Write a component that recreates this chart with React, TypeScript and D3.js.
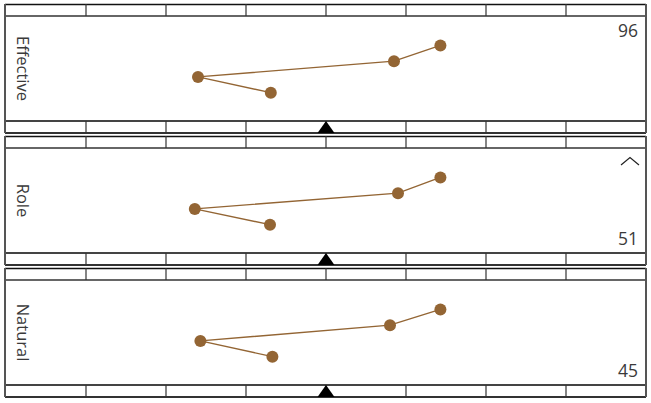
import React from "react";
import * as d3 from "d3";

const categories = ["Effective", "Role", "Natural"];
const cornerLabels = ["96", "51", "45"];
const labelPositions = ["top", "bottom", "bottom"];
const showCaret = [false, true, false];
// x positions (column units, 0..8) of the four points in drawing order
const xValues = [
  [3.31, 2.4, 4.85, 5.43],
  [3.3, 2.36, 4.9, 5.43],
  [3.33, 2.43, 4.8, 5.43],
];
// y values (0..100 within plot area)
const yValues = [27, 42, 57, 72];
const columnTicks = [1, 2, 3, 4, 5, 6, 7];
const markerValue = 4;

const W = 651;
const H = 403;
const left = 5;
const right = 646;
const panelTop0 = 4;
const panelStep = 132;
const panelH = 129;
const strip = 12;

export default function App() {
  const x = d3.scaleLinear().domain([0, 8]).range([6, 646]);
  const y = d3.scaleLinear().domain([0, 100]).range([117, 12]);
  const line = d3
    .line<[number, number]>()
    .x((d) => x(d[0]))
    .y((d) => y(d[1]));
  const color = "#936534";
  const textColor = "#3a3a3a";
  return (
    <svg
      width={W}
      height={H}
      style={{ position: "absolute", left: 0, top: 0, background: "#fff" }}
      fontFamily="'Open Sans', sans-serif"
    >
      {categories.map((cat, i) => {
        const top = panelTop0 + i * panelStep;
        const pts: [number, number][] = xValues[i].map((xv, j) => [xv, yValues[j]]);
        const mid = (strip + panelH - strip) / 2;
        return (
          <g key={cat} transform={`translate(0,${top})`}>
            <rect x={left} y={0} width={right - left} height={panelH} fill="#fff" stroke="none" />
            <line x1={left} x2={right} y1={0.5} y2={0.5} stroke="#111" strokeWidth={1.5} />
            <line x1={left} x2={right} y1={strip} y2={strip} stroke="#333" strokeWidth={1.5} />
            <line x1={left} x2={right} y1={panelH - strip} y2={panelH - strip} stroke="#444" strokeWidth={1.8} />
            <line x1={left} x2={right} y1={panelH} y2={panelH} stroke="#333" strokeWidth={1.8} />
            <line x1={left} x2={left} y1={0} y2={panelH} stroke="#555" strokeWidth={2} />
            <line x1={right} x2={right} y1={0} y2={panelH} stroke="#555" strokeWidth={2} />
            {columnTicks.map((c) => (
              <g key={c}>
                <line x1={x(c)} x2={x(c)} y1={0} y2={strip} stroke="#333" strokeWidth={1.2} />
                <line x1={x(c)} x2={x(c)} y1={panelH - strip} y2={panelH} stroke="#333" strokeWidth={1.2} />
              </g>
            ))}
            <path
              d={`M${x(markerValue) - 8.5},${panelH} L${x(markerValue)},${panelH - strip} L${x(markerValue) + 8.5},${panelH} Z`}
              fill="#000"
            />
            <text
              transform={`translate(17,${mid}) rotate(90)`}
              textAnchor="middle"
              fontSize={16.5}
              fill={textColor}
            >
              {cat}
            </text>
            <path d={line(pts) || ""} fill="none" stroke={color} strokeWidth={1.4} />
            {pts.map((p, j) => (
              <circle key={j} cx={x(p[0])} cy={y(p[1])} r={6} fill={color} />
            ))}
            <text
              x={638}
              y={labelPositions[i] === "top" ? 33 : 109}
              textAnchor="end"
              fontSize={17.5}
              fill={textColor}
            >
              {cornerLabels[i]}
            </text>
            {showCaret[i] && (
              <path
                d="M621,29 L630,21.5 L639,29"
                fill="none"
                stroke="#222"
                strokeWidth={1.2}
              />
            )}
          </g>
        );
      })}
    </svg>
  );
}
